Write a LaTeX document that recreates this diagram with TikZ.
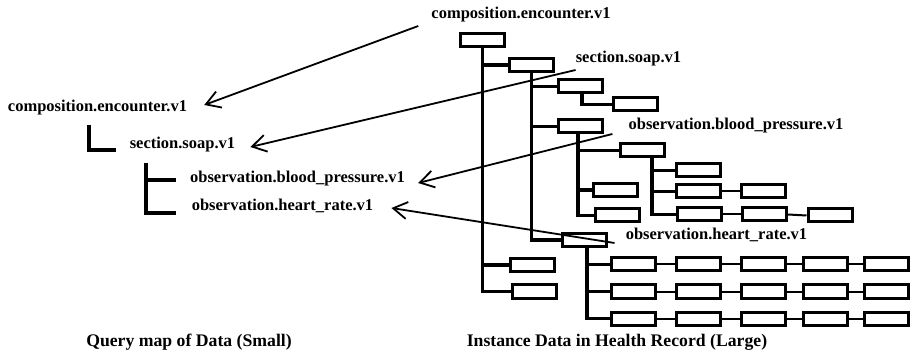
\documentclass[tikz,border=0pt]{standalone}
\usepackage{fontspec}
\setmainfont{Liberation Serif}
\usetikzlibrary{arrows.meta}
\begin{document}
\begin{tikzpicture}[x=1pt,y=-1pt,
  bx/.style={draw,line width=3pt,minimum width=44pt,minimum height=13pt,inner sep=0pt},
  br/.style={line width=3.5pt},
  ln/.style={line width=2pt},
  lbl/.style={inner sep=0pt,font=\bfseries\fontsize{16.5}{18}\selectfont},
  captxt/.style={inner sep=0pt,font=\bfseries\fontsize{17.7}{20}\selectfont},
  arr/.style={line width=1.8pt,-{Straight Barb[length=14pt,width=17pt]}},
  ell/.style={line width=3.5pt}]
\useasboundingbox (0,0) rectangle (916,358);
% labels
\node[lbl] (topcomp) at (521,14.5) {composition.encounter.v1};
\node[lbl] (rsec) at (628.5,59) {section.soap.v1};
\node[lbl] (rblood) at (736,126) {observation.blood\_pressure.v1};
\node[lbl] (rheart) at (716.5,235) {observation.heart\_rate.v1};
\node[lbl] (lcomp) at (97.5,108) {composition.encounter.v1};
\node[lbl] (lsec) at (182.5,145) {section.soap.v1};
\node[lbl] (lblood) at (297.5,179) {observation.blood\_pressure.v1};
\node[lbl] (lheart) at (282.5,206) {observation.heart\_rate.v1};
\node[captxt] (capl) at (189,342) {Query map of Data (Small)};
\node[captxt] (capr) at (617,342) {Instance Data in Health Record (Large)};
% left tree marks
\draw[ell] (89,125) -- (89,150) -- (116,150);
\draw[ell] (146,163) -- (146,213) -- (176,213);
\draw[ell] (146,180) -- (176,180);
% boxes
\node[bx] (b1) at (482.5,40.5) {};
\node[bx] (b2) at (531.5,65) {};
\node[bx] (b3) at (580,86.5) {};
\node[bx] (b4) at (635.5,104.5) {};
\node[bx] (b5) at (580,126.5) {};
\node[bx] (b6) at (642.5,150.5) {};
\node[bx] (b7) at (615.5,190) {};
\node[bx] (b8) at (617,215.5) {};
\node[bx] (b9) at (698,170.5) {};
\node[bx] (b10) at (698,191.5) {};
\node[bx] (b11) at (763,191.5) {};
\node[bx] (b12) at (699.5,214.5) {};
\node[bx] (b13) at (764.5,214.5) {};
\node[bx] (b14) at (830,215.5) {};
\node[bx] (b15) at (584.5,240) {};
\node[bx] (b16) at (532.5,265) {};
\node[bx] (b17) at (534.5,291.5) {};
\foreach \r/\yy in {1/264.5,2/291.5,3/318.5}{
  \node[bx] (r\r a) at (633.5,\yy) {};
  \node[bx] (r\r b) at (698.5,\yy) {};
  \node[bx] (r\r c) at (763.5,\yy) {};
  \node[bx] (r\r d) at (825,\yy) {};
  \node[bx] (r\r e) at (886.5,\yy) {};
  \draw[ln] (r\r a.east) -- (r\r b.west);
  \draw[ln] (r\r b.east) -- (r\r c.west);
  \draw[ln] (r\r c.east) -- (r\r d.west);
  \draw[ln] (r\r d.east) -- (r\r e.west);
}
% branches
\draw[br] (b1.south) |- (b2.west);
\draw[br] (b1.south) |- (b16.west);
\draw[br] (b1.south) |- (b17.west);
\draw[br] (b2.south) |- (b3.west);
\draw[br] (b2.south) |- (b5.west);
\draw[br] (b2.south) |- (b15.west);
\draw[br] ([xshift=2pt]b3.south) |- (b4.west);
\draw[br] ([xshift=-2pt]b5.south) |- (b6.west);
\draw[br] ([xshift=-2pt]b5.south) |- (b7.west);
\draw[br] ([xshift=-2pt]b5.south) |- (b8.west);
\draw[br] ([xshift=9.5pt]b6.south) |- (b9.west);
\draw[br] ([xshift=9.5pt]b6.south) |- (b10.west);
\draw[br] ([xshift=9.5pt]b6.south) |- (b12.west);
\draw[ln] (b10.east) -- (b11.west);
\draw[ln] (b12.east) -- (b13.west);
\draw[ln] (b13.east) -- (b14.west);
\draw[br] ([xshift=2.5pt]b15.south) |- (r1a.west);
\draw[br] ([xshift=2.5pt]b15.south) |- (r2a.west);
\draw[br] ([xshift=2.5pt]b15.south) |- (r3a.west);
% arrows
\draw[arr] ([xshift=-13pt,yshift=-11.5pt]topcomp.west) -- ([xshift=17pt,yshift=3pt]lcomp.east);
\draw[arr] ([yshift=-11pt]rsec.west) -- ([xshift=15pt,yshift=-2pt]lsec.east);
\draw[arr] ([xshift=-16pt,yshift=-8pt]rblood.west) -- ([xshift=13pt,yshift=-4pt]lblood.east);
\draw[arr] ([xshift=-11pt,yshift=-8pt]rheart.west) -- ([xshift=18pt,yshift=-2pt]lheart.east);
\end{tikzpicture}
\end{document}
